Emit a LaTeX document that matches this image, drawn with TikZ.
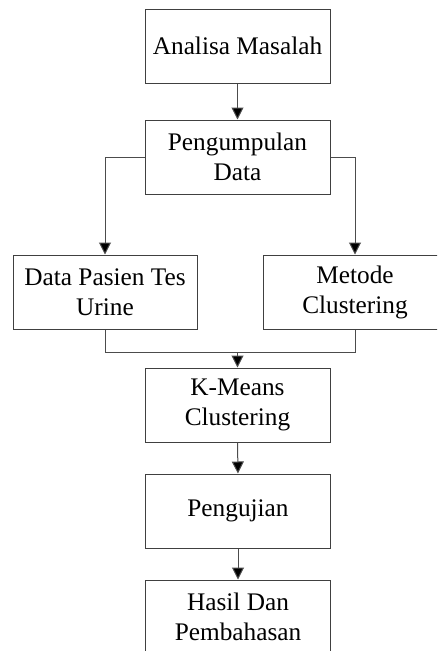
\documentclass[tikz,border=0pt]{standalone}
\usepackage{fontspec}
\setmainfont{Liberation Serif}
\usetikzlibrary{arrows.meta}
\begin{document}
\begin{tikzpicture}[x=1pt,y=-1pt,
  box/.style={draw=black!75,line width=1pt,minimum width=185pt,minimum height=74pt,
    inner sep=0pt,align=center,font=\fontsize{25.3}{30}\selectfont},
  conn/.style={draw=black!70,line width=1pt},
  arr/.style={conn,-{Triangle[length=12pt,width=12pt,fill=black]}}]
\useasboundingbox (0,0) rectangle (437,651);
\clip (0,0) rectangle (437,651);
\node[box] (b1) at (237.5,46) {Analisa Masalah};
\node[box] (b2) at (237.5,157) {Pengumpulan\\Data};
\node[box,minimum width=184pt] (b3) at (105,292) {Data Pasien Tes\\Urine};
\node[box,minimum width=184pt] (b4) at (355,292) {Metode\\Clustering};
\node[box] (b5) at (237.5,405) {K-Means\\Clustering};
\node[box] (b6) at (238,511) {Pengujian};
\node[box] (b7) at (238,617) {Hasil Dan\\Pembahasan};
\coordinate (join) at (237.5,352);
\draw[arr] (b1.south) -- (b2.north);
\draw[arr] (b2.west) -| (b3.north);
\draw[arr] (b2.east) -| (b4.north);
\draw[conn] (b3.south) |- (join);
\draw[conn] (b4.south) |- (join);
\draw[arr] (join) -- (b5.north);
\draw[arr] (b5.south) -- (b6.north);
\draw[arr] (b6.south) -- (b7.north);
\end{tikzpicture}
\end{document}
